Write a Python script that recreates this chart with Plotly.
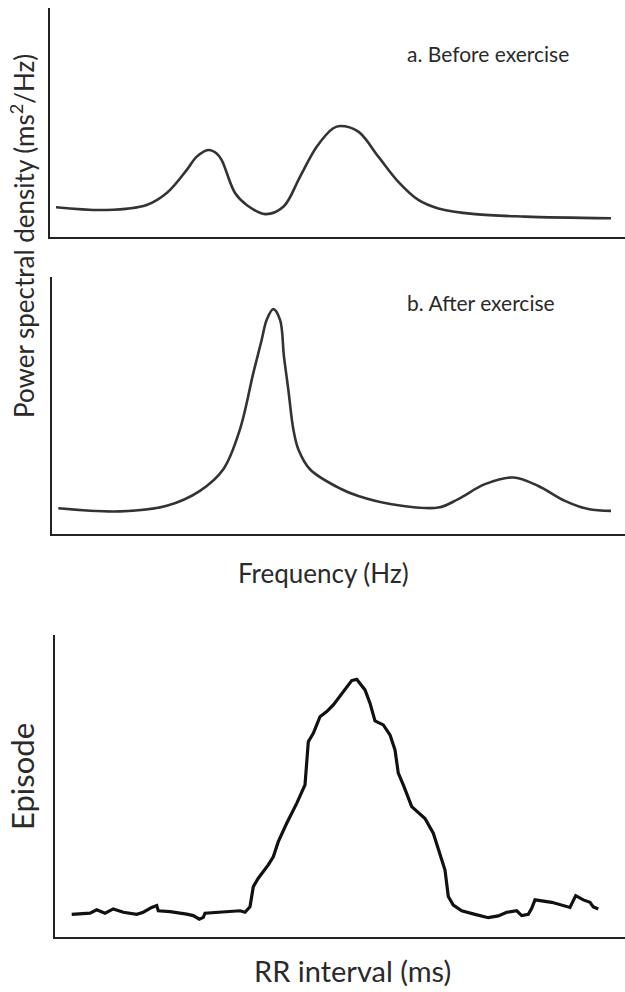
import plotly.graph_objects as go

# ---- Panel a: before exercise (frequency in Hz, PSD arbitrary units) ----
freq_before = [0.0052, 0.0493, 0.0841, 0.1015, 0.1189, 0.1276, 0.1377, 0.1449, 0.1493,
               0.1609, 0.1710, 0.1870, 0.2029, 0.2174, 0.2319, 0.2463, 0.2522, 0.2681,
               0.2855, 0.3029, 0.3203, 0.3377, 0.3696, 0.4130, 0.4878]
psd_before = [13.0, 11.8, 14.0, 19.2, 29.3, 35.1, 38.0, 36.5, 33.6,
              19.2, 14.0, 10.0, 13.2, 26.3, 39.4, 47.5, 48.5, 46.0,
              35.1, 24.1, 16.2, 12.5, 10.0, 8.9, 8.2]

# ---- Panel b: after exercise ----
freq_after = [0.0055, 0.0593, 0.1001, 0.1291, 0.1495, 0.1640, 0.1757, 0.1830, 0.1873,
              0.1931, 0.1990, 0.2024, 0.2062, 0.2106, 0.2150, 0.2251, 0.2513, 0.2673,
              0.2964, 0.3371, 0.3545, 0.3778, 0.4025, 0.4243, 0.4476, 0.4680, 0.4878]
psd_after = [10.0, 8.8, 11.0, 16.8, 25.2, 40.7, 62.7, 75.6, 83.3,
             87.5, 83.3, 69.1, 56.2, 40.7, 32.9, 25.2, 17.7, 14.8,
             11.6, 10.3, 13.6, 19.4, 22.0, 18.7, 12.9, 9.7, 9.0]

# ---- Bottom: RR interval histogram (ms vs episodes) ----
rr_ms = [516.7, 535, 541.7, 550, 558.3, 568.3, 581.7, 588.3, 596.7, 601.7, 603.3, 615,
         631.7, 638.3, 644.3, 648.3, 650, 668.3, 685, 690, 695, 698.3, 703.3, 713.3,
         718.3, 723.3, 731.7, 741.7, 750, 753.3, 758.3, 765, 771.7, 778.3, 785, 796.7,
         801.7, 810, 815, 820, 828.3, 835, 840, 843.3, 848.3, 856.7, 870, 878.3, 890,
         893.3, 898.3, 906.7, 920, 933.3, 943.3, 951.7, 961.7, 966.7, 973.3, 976.7,
         980, 996.7, 1015, 1020.7, 1028.3, 1035, 1038.3, 1043.3]
episodes = [7.4, 7.8, 8.9, 7.8, 9.2, 8.1, 7.4, 8.1, 9.7, 10.3, 8.6, 8.3,
            7.5, 7.0, 5.8, 6.4, 7.8, 8.1, 8.6, 8.1, 9.9, 16.6, 19.4, 23.8,
            26.5, 31.5, 37.6, 44.2, 50.3, 64.6, 67.4, 72.9, 74.6, 76.8, 79.6, 84.9,
            85.3, 81.8, 77.4, 71.5, 70.2, 66.9, 61.9, 54.2, 50.3, 43.1, 39.2, 34.3, 22.1,
            13.3, 10.5, 8.6, 7.4, 6.3, 6.9, 8.1, 8.6, 7.0, 7.4, 9.4,
            12.2, 11.4, 9.7, 13.6, 12.2, 11.4, 9.9, 9.2]

labels = {
    "a": "a. Before exercise",
    "b": "b. After exercise",
    "ylab_top": "Power spectral density (ms<sup>2</sup>/Hz)",
    "xlab_top": "Frequency (Hz)",
    "ylab_bot": "Episode",
    "xlab_bot": "RR interval (ms)",
}

W, H = 625, 992
FONT = "Lato, Open Sans, sans-serif"
TXT = "#2a2a2a"

fig = go.Figure()
fig.add_trace(go.Scatter(x=freq_before, y=psd_before, mode="lines",
                         line=dict(color="#333333", width=2.6, shape="spline", smoothing=1.0),
                         xaxis="x", yaxis="y", showlegend=False, hoverinfo="skip"))
fig.add_trace(go.Scatter(x=freq_after, y=psd_after, mode="lines",
                         line=dict(color="#333333", width=2.6, shape="spline", smoothing=1.0),
                         xaxis="x2", yaxis="y2", showlegend=False, hoverinfo="skip"))
fig.add_trace(go.Scatter(x=rr_ms, y=episodes, mode="lines",
                         line=dict(color="#111111", width=3.2),
                         xaxis="x3", yaxis="y3", showlegend=False, hoverinfo="skip"))

axis_common = dict(showline=True, linewidth=2.2, linecolor="#222222", showgrid=False,
                   zeroline=False, showticklabels=False, ticks="", fixedrange=True)

def py(p):
    return 1 - p / H

fig.update_layout(
    width=W, height=H, margin=dict(l=0, r=0, t=0, b=0),
    paper_bgcolor="white", plot_bgcolor="white",
    xaxis=dict(domain=[50 / W, 1], range=[0, 0.5], anchor="y", **axis_common),
    yaxis=dict(domain=[py(237), py(8)], range=[0, 100], anchor="x", **axis_common),
    xaxis2=dict(domain=[52 / W, 1], range=[0, 0.5], anchor="y2", **axis_common),
    yaxis2=dict(domain=[py(534), py(277)], range=[0, 100], anchor="x2", **axis_common),
    xaxis3=dict(domain=[55 / W, 1], range=[500, 1070], anchor="y3", **axis_common),
    yaxis3=dict(domain=[py(936.7), py(635)], range=[0, 100], anchor="x3", **axis_common),
)

ann = [
    dict(text=labels["a"], x=405 / W, y=py(53), xanchor="left", yanchor="middle", size=21),
    dict(text=labels["b"], x=405 / W, y=py(302), xanchor="left", yanchor="middle", size=21),
    dict(text=labels["ylab_top"], x=22 / W, y=py(236), xanchor="center", yanchor="middle",
         size=26, angle=-90),
    dict(text=labels["xlab_top"], x=323 / W, y=py(573), xanchor="center", yanchor="middle", size=26),
    dict(text=labels["ylab_bot"], x=22 / W, y=py(777), xanchor="center", yanchor="middle",
         size=31, angle=-90),
    dict(text=labels["xlab_bot"], x=352 / W, y=py(970), xanchor="center", yanchor="middle", size=29),
]
for a in ann:
    fig.add_annotation(text=a["text"], x=a["x"], y=a["y"], xref="paper", yref="paper",
                       xanchor=a["xanchor"], yanchor=a["yanchor"], showarrow=False,
                       textangle=a.get("angle", 0),
                       font=dict(family=FONT, size=a["size"], color=TXT))

fig.write_html("out.html", config={"displayModeBar": False, "staticPlot": True},
               post_script="document.body.style.margin='0';document.body.style.overflow='hidden';")
